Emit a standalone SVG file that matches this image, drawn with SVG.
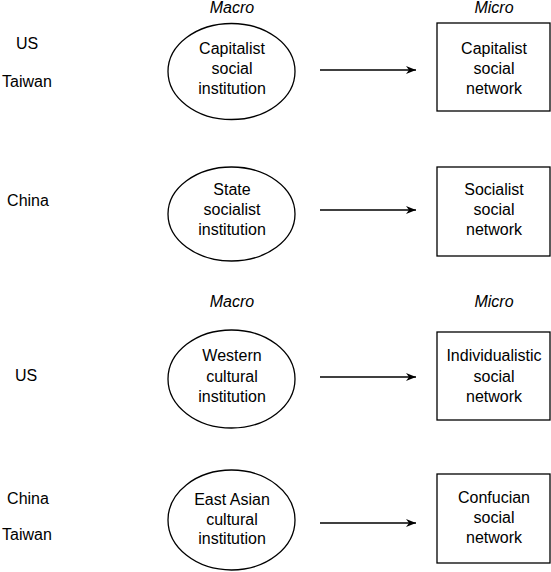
<svg xmlns="http://www.w3.org/2000/svg" width="551" height="572" viewBox="0 0 551 572">
<defs>
<marker id="arr" markerWidth="12" markerHeight="10" refX="10" refY="5" orient="auto" markerUnits="userSpaceOnUse">
<path d="M0,1 L10,5 L0,9 L3,5 Z" fill="#000"/>
</marker>
<style>
text{font-family:"Liberation Sans",Arial,sans-serif;font-size:16px;fill:#000;text-anchor:middle}
.it{font-style:italic}
.sh{fill:#fff;stroke:#000;stroke-width:1.3}
.cn{stroke:#000;stroke-width:1.3;fill:none;marker-end:url(#arr)}
</style>
</defs>
<rect width="551" height="572" fill="#fff"/>
<g id="headers">
<text class="it" x="232" y="13">Macro</text>
<text class="it" x="494" y="13">Micro</text>
<text class="it" x="232" y="307">Macro</text>
<text class="it" x="494" y="307">Micro</text>
</g>
<g id="countries">
<text x="27" y="49">US</text>
<text x="27" y="87">Taiwan</text>
<text x="28" y="206">China</text>
<text x="26" y="381">US</text>
<text x="28" y="504">China</text>
<text x="27" y="540">Taiwan</text>
</g>
<g id="connectors">
<line class="cn" x1="320" y1="70" x2="416" y2="70"/>
<line class="cn" x1="320" y1="210" x2="416" y2="210"/>
<line class="cn" x1="320" y1="377" x2="416" y2="377"/>
<line class="cn" x1="320" y1="523" x2="416" y2="523"/>
</g>
<g id="macro1">
<ellipse class="sh" cx="231.5" cy="71.5" rx="63.5" ry="48"/>
<text x="232" y="54">Capitalist</text>
<text x="232" y="74">social</text>
<text x="232" y="94">institution</text>
</g>
<g id="micro1">
<rect class="sh" x="437" y="23" width="113" height="88"/>
<text x="494" y="54">Capitalist</text>
<text x="494" y="74">social</text>
<text x="494" y="94">network</text>
</g>
<g id="macro2">
<ellipse class="sh" cx="231.5" cy="214" rx="63.5" ry="47"/>
<text x="232" y="195">State</text>
<text x="232" y="215">socialist</text>
<text x="232" y="235">institution</text>
</g>
<g id="micro2">
<rect class="sh" x="437" y="167" width="113" height="89"/>
<text x="494" y="195">Socialist</text>
<text x="494" y="215">social</text>
<text x="494" y="235">network</text>
</g>
<g id="macro3">
<ellipse class="sh" cx="231.5" cy="379" rx="63.5" ry="49"/>
<text x="232" y="361">Western</text>
<text x="232" y="382">cultural</text>
<text x="232" y="402">institution</text>
</g>
<g id="micro3">
<rect class="sh" x="437" y="332" width="113" height="88"/>
<text x="494" y="361">Individualistic</text>
<text x="494" y="382">social</text>
<text x="494" y="402">network</text>
</g>
<g id="macro4">
<ellipse class="sh" cx="231.5" cy="520" rx="63.5" ry="50"/>
<text x="232" y="505">East Asian</text>
<text x="232" y="525">cultural</text>
<text x="232" y="544">institution</text>
</g>
<g id="micro4">
<rect class="sh" x="437" y="474" width="113" height="89"/>
<text x="494" y="503">Confucian</text>
<text x="494" y="523">social</text>
<text x="494" y="543">network</text>
</g>
</svg>
